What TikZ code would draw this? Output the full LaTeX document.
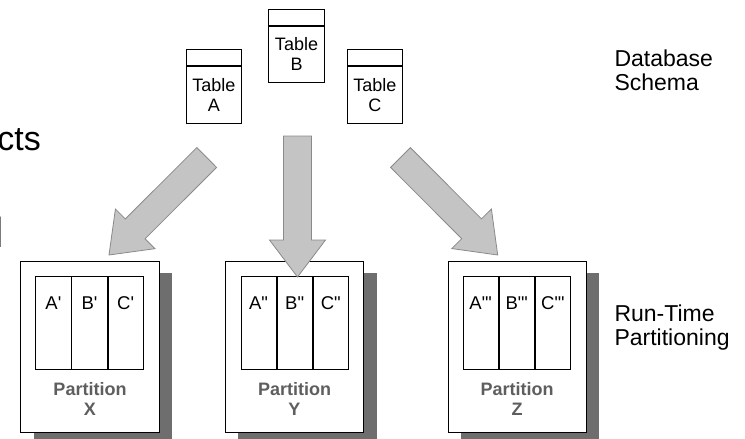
\documentclass[tikz,border=0pt]{standalone}
\usepackage{fontspec}
\setmainfont{Liberation Sans}
\usetikzlibrary{positioning,calc,shadows}

\definecolor{shadowgray}{HTML}{6E6E6E}
\definecolor{arrowfill}{HTML}{C4C4C4}
\definecolor{arrowline}{HTML}{8A8A8A}
\definecolor{captiongray}{HTML}{5E5E5E}

\begin{document}
\begin{tikzpicture}[x=1pt, y=-1pt,
    tablebody/.style ={rectangle, draw, line width=0.9pt, minimum width=55.7pt, minimum height=56.3pt,
      inner sep=0pt, align=center, font=\fontsize{18}{20}\selectfont},
    tablehead/.style ={rectangle, draw, line width=0.9pt, minimum width=55.7pt, minimum height=16pt, inner sep=0pt},
    partbox/.style ={rectangle, draw, line width=0.9pt, fill=white, minimum width=138.5pt, minimum height=171pt,
      drop shadow={shadow xshift=13pt, shadow yshift=-12pt, opacity=1, fill=shadowgray}},
    column/.style ={rectangle, draw, line width=0.9pt, minimum width=35.2pt, minimum height=92.3pt, inner sep=0pt,
      text height=12pt, text depth=38pt, font=\fontsize{18.5}{20}\selectfont},
    partlabel/.style ={align=center, text=captiongray, font=\bfseries\fontsize{18}{20}\selectfont},
    sidelabel/.style ={align=left, anchor=west, font=\fontsize{23}{24}\selectfont},
    bigarrow/.style ={draw=arrowline, fill=arrowfill, line width=0.8pt, to path={
      ($(\tikztostart)!14pt!90:(\tikztotarget)$)
      -- ($(\tikztotarget)!37pt!(\tikztostart)!14pt!-90:(\tikztostart)$)
      -- ($(\tikztotarget)!37pt!(\tikztostart)!28pt!-90:(\tikztostart)$)
      -- (\tikztotarget)
      -- ($(\tikztotarget)!37pt!(\tikztostart)!28pt!90:(\tikztostart)$)
      -- ($(\tikztotarget)!37pt!(\tikztostart)!14pt!90:(\tikztostart)$)
      -- ($(\tikztostart)!14pt!-90:(\tikztotarget)$)
      -- cycle}}]
   \useasboundingbox (0,0) rectangle (745,439);

   % left edge text
   \node[anchor=base east, inner sep=0pt, font=\fontsize{34}{34}\selectfont] (cts) at (41,150) {cts};
   \node[anchor=base east, inner sep=0pt, font=\fontsize{42}{42}\selectfont] (ell) at (4.5,247) {l};

   % schema tables
   \node[tablebody] (ta) at (213.8,94.9) {Table\\A};
   \node[tablehead, above=0pt of ta] (ta-h) {};
   \node[tablebody] (tb) at (296.5,54.4) {Table\\B};
   \node[tablehead, above=0pt of tb] (tb-h) {};
   \node[tablebody] (tc) at (374.9,94.9) {Table\\C};
   \node[tablehead, above=0pt of tc] (tc-h) {};
   \node[sidelabel] (schema) at (611,70.5) {Database\\Schema};

   % partition X
   \node[partbox] (px) at (90,346.5) {};
   \node[column] (xb) at (89.5,322.9) {B\textquotesingle};
   \node[column, left=0pt of xb] (xa) {A\textquotesingle};
   \node[column, right=0pt of xb] (xc) {C\textquotesingle};
   \node[partlabel] (px-l) at (90,398.5) {Partition\\X};

   % partition Y
   \node[partbox] (py) at (294.5,346.5) {};
   \node[column] (yb) at (294.7,322.9) {B\textquotedbl};
   \node[column, left=0pt of yb] (ya) {A\textquotedbl};
   \node[column, right=0pt of yb] (yc) {C\textquotedbl};
   \node[partlabel] (py-l) at (294.5,398.5) {Partition\\Y};

   % partition Z
   \node[partbox] (pz) at (517.2,346.5) {};
   \node[column] (zb) at (516.8,322.9) {B\textquotedbl\textquotesingle};
   \node[column, left=0pt of zb] (za) {A\textquotedbl\textquotesingle};
   \node[column, right=0pt of zb] (zc) {C\textquotedbl\textquotesingle};
   \node[partlabel] (pz-l) at (517.2,398.5) {Partition\\Z};
   \node[sidelabel] (runtime) at (611,327.5) {Run-Time\\Partitioning};

   % block arrows
   \coordinate (a-tail) at (206.7,157.5);
   \coordinate (a-tip)  at (109,255);
   \coordinate (b-tail) at (297.5,136);
   \coordinate (b-tip)  at (297.5,277);
   \coordinate (c-tail) at (400.5,157.5);
   \coordinate (c-tip)  at (497.7,255);
   \draw[bigarrow] (a-tail) to (a-tip);
   \draw[bigarrow] (b-tail) to (b-tip);
   \draw[bigarrow] (c-tail) to (c-tip);
\end{tikzpicture}
\end{document}
